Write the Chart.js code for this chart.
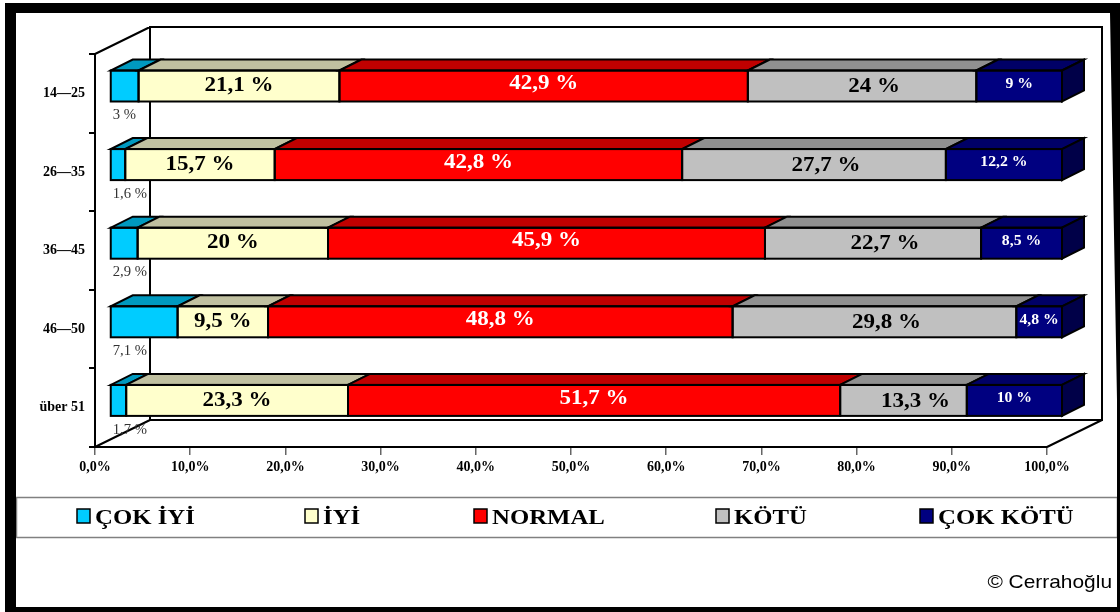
<!DOCTYPE html>
<html>
<head>
<meta charset="utf-8">
<script src="https://cdn.jsdelivr.net/npm/chart.js@4/dist/chart.umd.min.js"></script>
<style>
  html, body { margin: 0; padding: 0; background: #fff; }
  canvas { display: block; }
</style>
</head>
<body>
<div style="width:1120px;height:612px"><canvas id="chart" width="1120" height="612"></canvas></div>
<script>
// Age groups and answer shares (%)
const ageGroups = ['14—25', '26—35', '36—45', '46—50', 'über 51'];
const seriesNames = ['ÇOK İYİ', 'İYİ', 'NORMAL', 'KÖTÜ', 'ÇOK KÖTÜ'];
const cokIyi  = [3, 1.6, 2.9, 7.1, 1.7];
const iyi     = [21.1, 15.7, 20, 9.5, 23.3];
const normal  = [42.9, 42.8, 45.9, 48.8, 51.7];
const kotu    = [24, 27.7, 22.7, 29.8, 13.3];
const cokKotu = [9, 12.2, 8.5, 4.8, 10];
const xTicks  = [0, 10, 20, 30, 40, 50, 60, 70, 80, 90, 100];

// Styling
const frontColors = ['#00CCFF', '#FFFFCC', '#FF0000', '#C0C0C0', '#000080'];
const topColors   = ['#0099BF', '#C0C0A0', '#C00000', '#909090', '#000066'];
const sideColor   = '#000048';
const serif = "'Liberation Serif', 'Times New Roman', serif";
const sans  = "'Liberation Sans', Arial, sans-serif";

// 3D geometry: bars sit a bit behind the front axis plane, walls further back
const BAR_DX = 15, BAR_DY = -7.3;
const DEPTH_X = 22, DEPTH_Y = -11;
const WALL_X = 55, WALL_Y = -27;

const fmt = v => String(v).replace('.', ',');

function stretchedText(ctx, text, x, y, sx, align) {
  ctx.save();
  ctx.translate(x, y);
  ctx.scale(sx, 1);
  ctx.textAlign = align;
  ctx.fillText(text, 0, 0);
  ctx.restore();
}

function poly(ctx, pts, fill) {
  ctx.beginPath();
  ctx.moveTo(pts[0][0], pts[0][1]);
  for (let i = 1; i < pts.length; i++) ctx.lineTo(pts[i][0], pts[i][1]);
  ctx.closePath();
  ctx.fillStyle = fill;
  ctx.fill();
  ctx.stroke();
}

const framePlugin = {
  id: 'frame',
  beforeDraw(chart) {
    const ctx = chart.ctx;
    ctx.save();
    ctx.fillStyle = '#fff';
    ctx.fillRect(0, 0, chart.width, chart.height);
    ctx.restore();
  },
  afterDraw(chart) {
    const ctx = chart.ctx;
    ctx.save();
    // legend box
    ctx.strokeStyle = '#808080';
    ctx.lineWidth = 1.5;
    ctx.strokeRect(16.5, 497.5, 1101, 40);
    const legendX = [77, 305, 474, 716, 920];
    chart.data.datasets.forEach((ds, i) => {
      const x = legendX[i];
      ctx.fillStyle = ds.backgroundColor;
      ctx.fillRect(x, 509, 13, 14);
      ctx.strokeStyle = '#000';
      ctx.lineWidth = 1.5;
      ctx.strokeRect(x, 509, 13, 14);
      ctx.fillStyle = '#000';
      ctx.font = 'bold 21px ' + serif;
      ctx.textBaseline = 'alphabetic';
      stretchedText(ctx, ds.label, x + 18, 524, 1.18, 'left');
    });
    // copyright
    ctx.fillStyle = '#000';
    ctx.font = '19px ' + sans;
    ctx.textBaseline = 'alphabetic';
    stretchedText(ctx, '© Cerrahoğlu', 1112, 588, 1.1, 'right');
    // black outer frame
    ctx.fillStyle = '#000';
    ctx.fillRect(5, 3, 1115, 10);
    ctx.fillRect(5, 3, 11, 609);
    ctx.fillRect(5, 607, 1115, 5);
    ctx.beginPath();
    ctx.moveTo(1110, 3); ctx.lineTo(1120, 3); ctx.lineTo(1120, 612);
    ctx.lineTo(1117, 612); ctx.lineTo(1117, 400); ctx.lineTo(1110, 13);
    ctx.closePath();
    ctx.fill();
    ctx.restore();
  }
};

const depthPlugin = {
  id: 'depth',
  beforeDatasetsDraw(chart) {
    const { ctx, chartArea: a } = chart;
    ctx.save();
    ctx.strokeStyle = '#000';
    ctx.lineWidth = 2;
    ctx.beginPath();
    ctx.rect(a.left + WALL_X, a.top + WALL_Y, a.right - a.left, a.bottom - a.top);
    ctx.moveTo(a.left, a.top);     ctx.lineTo(a.left + WALL_X, a.top + WALL_Y);
    ctx.moveTo(a.left, a.bottom);  ctx.lineTo(a.left + WALL_X, a.bottom + WALL_Y);
    ctx.moveTo(a.right, a.bottom); ctx.lineTo(a.right + WALL_X, a.bottom + WALL_Y);
    ctx.stroke();
    ctx.restore();
    // bars are drawn set back from the front plane
    ctx.save();
    ctx.translate(BAR_DX, BAR_DY);
  },
  afterDatasetsDraw(chart) {
    const ctx = chart.ctx;
    const metas = chart.data.datasets.map((d, i) => chart.getDatasetMeta(i));
    const last = metas.length - 1;
    ctx.strokeStyle = '#000';
    ctx.lineWidth = 2;
    ctx.lineJoin = 'miter';
    const boxes = [];
    for (let r = 0; r < ageGroups.length; r++) {
      for (let s = 0; s < metas.length; s++) {
        const el = metas[s].data[r];
        const p = el.getProps(['x', 'y', 'base', 'height'], true);
        const x0 = Math.min(p.x, p.base), x1 = Math.max(p.x, p.base);
        const top = p.y - p.height / 2, bot = p.y + p.height / 2;
        poly(ctx, [[x0, top], [x1, top], [x1 + DEPTH_X, top + DEPTH_Y], [x0 + DEPTH_X, top + DEPTH_Y]], topColors[s]);
        ctx.strokeRect(x0, top, x1 - x0, p.height);
        if (s === last) {
          poly(ctx, [[x1, top], [x1 + DEPTH_X, top + DEPTH_Y], [x1 + DEPTH_X, bot + DEPTH_Y], [x1, bot]], sideColor);
        }
        boxes.push({ s, r, x0: x0 + BAR_DX, x1: x1 + BAR_DX, cy: p.y + BAR_DY, bot: bot + BAR_DY });
      }
    }
    ctx.restore();

    // value labels
    ctx.save();
    ctx.textBaseline = 'middle';
    boxes.forEach(b => {
      const v = chart.data.datasets[b.s].data[b.r];
      const txt = fmt(v) + ' %';
      const cx = (b.x0 + b.x1) / 2;
      if (b.s === 0) {
        ctx.fillStyle = '#333';
        ctx.font = '14px ' + serif;
        stretchedText(ctx, txt, b.x0 + 2, b.bot + 14, 1.05, 'left');
      } else if (b.s === 1) {
        ctx.fillStyle = '#000';
        ctx.font = 'bold 20px ' + serif;
        stretchedText(ctx, txt, cx, b.cy, 1.15, 'center');
      } else if (b.s === 3) {
        ctx.fillStyle = '#000';
        ctx.font = 'bold 20px ' + serif;
        stretchedText(ctx, txt, cx + 12, b.cy + 1, 1.15, 'center');
      } else if (b.s === 2) {
        ctx.fillStyle = '#fff';
        ctx.font = 'bold 20px ' + serif;
        stretchedText(ctx, txt, cx, b.cy - 2, 1.15, 'center');
      } else {
        ctx.fillStyle = '#fff';
        ctx.font = 'bold 15px ' + serif;
        stretchedText(ctx, txt, cx, b.cy - 2, 1.05, 'center');
      }
    });
    ctx.restore();
  }
};

const seriesValues = [cokIyi, iyi, normal, kotu, cokKotu];

new Chart(document.getElementById('chart'), {
  type: 'bar',
  data: {
    labels: ageGroups,
    datasets: seriesNames.map((name, i) => ({
      label: name,
      data: seriesValues[i],
      backgroundColor: frontColors[i],
      borderWidth: 0,
      barThickness: 31,
      clip: false
    }))
  },
  options: {
    indexAxis: 'y',
    responsive: false,
    animation: false,
    devicePixelRatio: 1,
    layout: { padding: { left: 16, right: 73, top: 54, bottom: 125 } },
    plugins: { legend: { display: false }, tooltip: { enabled: false } },
    scales: {
      x: {
        stacked: true,
        min: 0,
        max: 100,
        afterFit(scale) { scale.height = 40; },
        afterBuildTicks(scale) { scale.ticks = xTicks.map(v => ({ value: v })); },
        ticks: {
          autoSkip: false,
          maxRotation: 0,
          padding: 4,
          color: '#000',
          font: { family: serif, size: 14, weight: 'bold' },
          callback: v => v.toFixed(1).replace('.', ',') + '%'
        },
        grid: { drawOnChartArea: false, drawTicks: true, tickLength: 8, tickColor: '#666', lineWidth: 1.5 },
        border: { display: true, color: '#000', width: 2 }
      },
      y: {
        stacked: true,
        afterFit(scale) { scale.width = 79; },
        ticks: {
          padding: 4,
          color: '#000',
          font: { family: serif, size: 14, weight: 'bold' }
        },
        grid: { offset: true, drawOnChartArea: false, drawTicks: true, tickLength: 6, tickColor: '#000', lineWidth: 2 },
        border: { display: true, color: '#000', width: 2 }
      }
    }
  },
  plugins: [framePlugin, depthPlugin]
});
</script>
</body>
</html>
